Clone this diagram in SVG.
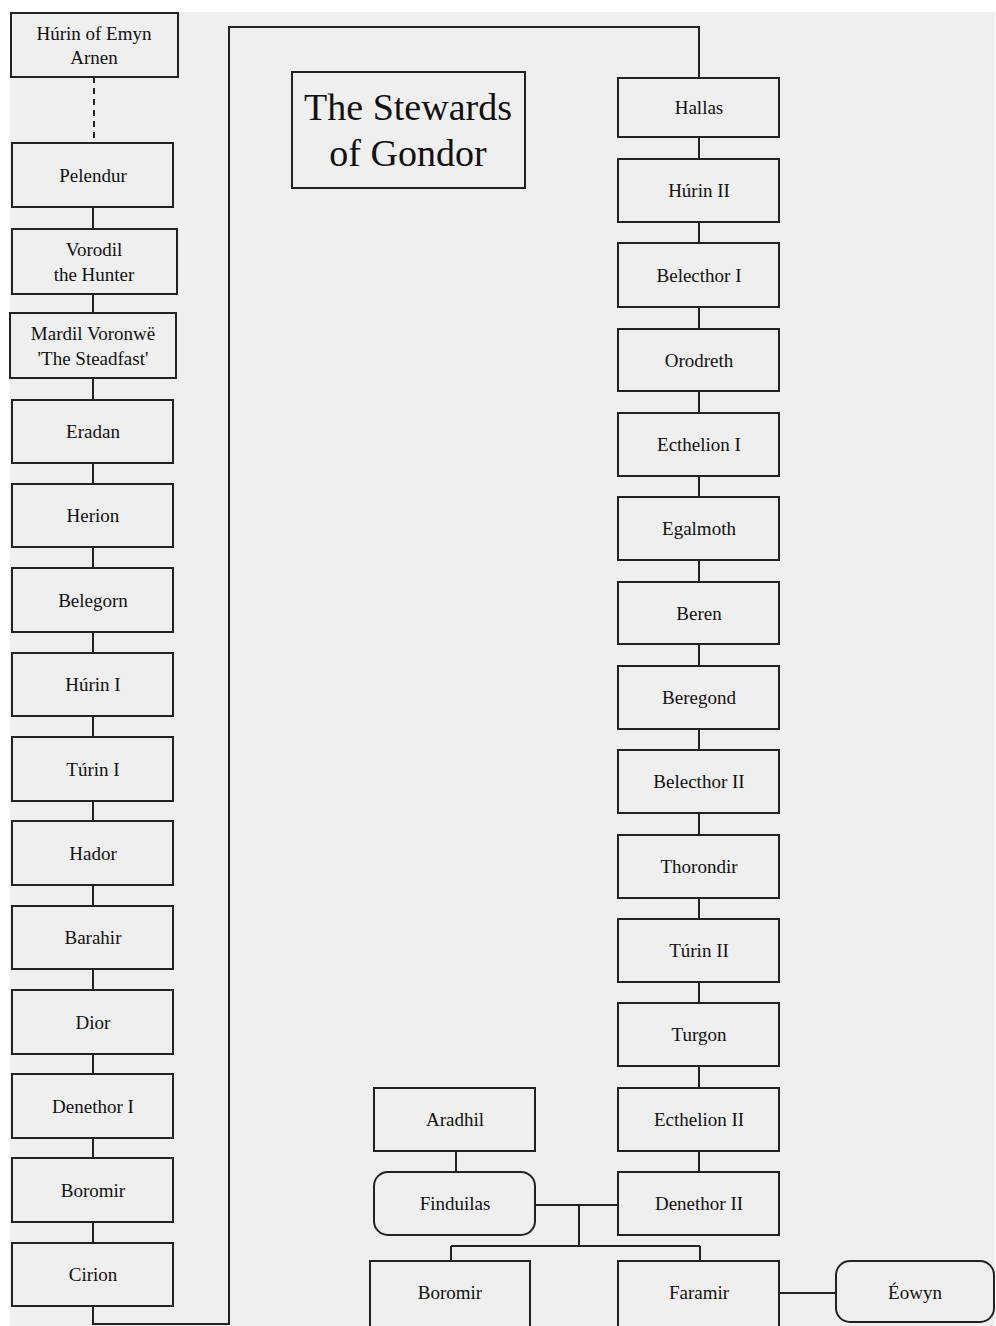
<svg xmlns="http://www.w3.org/2000/svg" width="996" height="1326" viewBox="0 0 996 1326">
<style>
.n{fill:#efefef;stroke:#222;stroke-width:2}
.t{font-family:"Liberation Serif","Times New Roman",serif;font-size:19px;fill:#111;text-anchor:middle}
.c{fill:none;stroke:#222;stroke-width:2}
</style>
<rect width="996" height="1326" fill="#fff"/>
<rect x="10" y="12" width="985" height="1314" fill="#efefef"/>
<g id="connectors">
<path class="c" d="M94 77V143" stroke-dasharray="6 5"/>
<path class="c" d="M93 207V229M93 294V313M93 378V400M93 463V484M93 547V568M93 632V653M93 716V737M93 801V821M93 885V906M93 969V990M93 1054V1074M93 1138V1158M93 1222V1243"/>
<path class="c" d="M93 1306V1324H229V27H699V78"/>
<path class="c" d="M699 137V159M699 222V243M699 307V329M699 391V413M699 476V497M699 560V582M699 644V666M699 729V750M699 813V835M699 898V919M699 982V1003M699 1066V1088M699 1151V1172"/>
<path class="c" d="M456 1151V1172M535 1205H618M579 1205V1246M451 1246H700M451 1246V1261M700 1246V1261M779 1293H836"/>
</g>
<g id="title"><rect class="n" x="292" y="72" width="233" height="116"/><text class="t" style="font-size:38px" x="408" y="120">The Stewards</text><text class="t" style="font-size:38px" x="408" y="166">of Gondor</text></g>
<g id="hurin-emyn-arnen"><rect class="n" x="11" y="13" width="167" height="64"/><text class="t" x="94" y="40">Húrin of Emyn</text><text class="t" x="94" y="64">Arnen</text></g>
<g id="pelendur"><rect class="n" x="12" y="143" width="161" height="64"/><text class="t" x="93" y="182">Pelendur</text></g>
<g id="vorodil"><rect class="n" x="12" y="229" width="165" height="65"/><text class="t" x="94" y="256">Vorodil</text><text class="t" x="94" y="281">the Hunter</text></g>
<g id="mardil"><rect class="n" x="10" y="313" width="166" height="65"/><text class="t" x="93" y="340">Mardil Voronwë</text><text class="t" x="93" y="365">'The Steadfast'</text></g>
<g id="eradan"><rect class="n" x="12" y="400" width="161" height="63"/><text class="t" x="93" y="438">Eradan</text></g>
<g id="herion"><rect class="n" x="12" y="484" width="161" height="63"/><text class="t" x="93" y="522">Herion</text></g>
<g id="belegorn"><rect class="n" x="12" y="568" width="161" height="64"/><text class="t" x="93" y="607">Belegorn</text></g>
<g id="hurin1"><rect class="n" x="12" y="653" width="161" height="63"/><text class="t" x="93" y="691">Húrin I</text></g>
<g id="turin1"><rect class="n" x="12" y="737" width="161" height="64"/><text class="t" x="93" y="776">Túrin I</text></g>
<g id="hador"><rect class="n" x="12" y="821" width="161" height="64"/><text class="t" x="93" y="860">Hador</text></g>
<g id="barahir"><rect class="n" x="12" y="906" width="161" height="63"/><text class="t" x="93" y="944">Barahir</text></g>
<g id="dior"><rect class="n" x="12" y="990" width="161" height="64"/><text class="t" x="93" y="1029">Dior</text></g>
<g id="denethor1"><rect class="n" x="12" y="1074" width="161" height="64"/><text class="t" x="93" y="1113">Denethor I</text></g>
<g id="boromir-old"><rect class="n" x="12" y="1158" width="161" height="64"/><text class="t" x="93" y="1197">Boromir</text></g>
<g id="cirion"><rect class="n" x="12" y="1243" width="161" height="63"/><text class="t" x="93" y="1281">Cirion</text></g>
<g id="hallas"><rect class="n" x="618" y="78" width="161" height="59"/><text class="t" x="699" y="114">Hallas</text></g>
<g id="hurin2"><rect class="n" x="618" y="159" width="161" height="63"/><text class="t" x="699" y="197">Húrin II</text></g>
<g id="belecthor1"><rect class="n" x="618" y="243" width="161" height="64"/><text class="t" x="699" y="282">Belecthor I</text></g>
<g id="orodreth"><rect class="n" x="618" y="329" width="161" height="62"/><text class="t" x="699" y="367">Orodreth</text></g>
<g id="ecthelion1"><rect class="n" x="618" y="413" width="161" height="63"/><text class="t" x="699" y="451">Ecthelion I</text></g>
<g id="egalmoth"><rect class="n" x="618" y="497" width="161" height="63"/><text class="t" x="699" y="535">Egalmoth</text></g>
<g id="beren"><rect class="n" x="618" y="582" width="161" height="62"/><text class="t" x="699" y="620">Beren</text></g>
<g id="beregond"><rect class="n" x="618" y="666" width="161" height="63"/><text class="t" x="699" y="704">Beregond</text></g>
<g id="belecthor2"><rect class="n" x="618" y="750" width="161" height="63"/><text class="t" x="699" y="788">Belecthor II</text></g>
<g id="thorondir"><rect class="n" x="618" y="835" width="161" height="63"/><text class="t" x="699" y="873">Thorondir</text></g>
<g id="turin2"><rect class="n" x="618" y="919" width="161" height="63"/><text class="t" x="699" y="957">Túrin II</text></g>
<g id="turgon"><rect class="n" x="618" y="1003" width="161" height="63"/><text class="t" x="699" y="1041">Turgon</text></g>
<g id="ecthelion2"><rect class="n" x="618" y="1088" width="161" height="63"/><text class="t" x="699" y="1126">Ecthelion II</text></g>
<g id="denethor2"><rect class="n" x="618" y="1172" width="161" height="63"/><text class="t" x="699" y="1210">Denethor II</text></g>
<g id="aradhil"><rect class="n" x="374" y="1088" width="161" height="63"/><text class="t" x="455" y="1126">Aradhil</text></g>
<g id="finduilas"><rect class="n" x="374" y="1172" width="161" height="63" rx="14"/><text class="t" x="455" y="1210">Finduilas</text></g>
<g id="boromir"><rect class="n" x="370" y="1261" width="160" height="70"/><text class="t" x="450" y="1299">Boromir</text></g>
<g id="faramir"><rect class="n" x="618" y="1261" width="161" height="70"/><text class="t" x="699" y="1299">Faramir</text></g>
<g id="eowyn"><rect class="n" x="836" y="1261" width="158" height="61" rx="14"/><text class="t" x="915" y="1299">Éowyn</text></g>
</svg>
